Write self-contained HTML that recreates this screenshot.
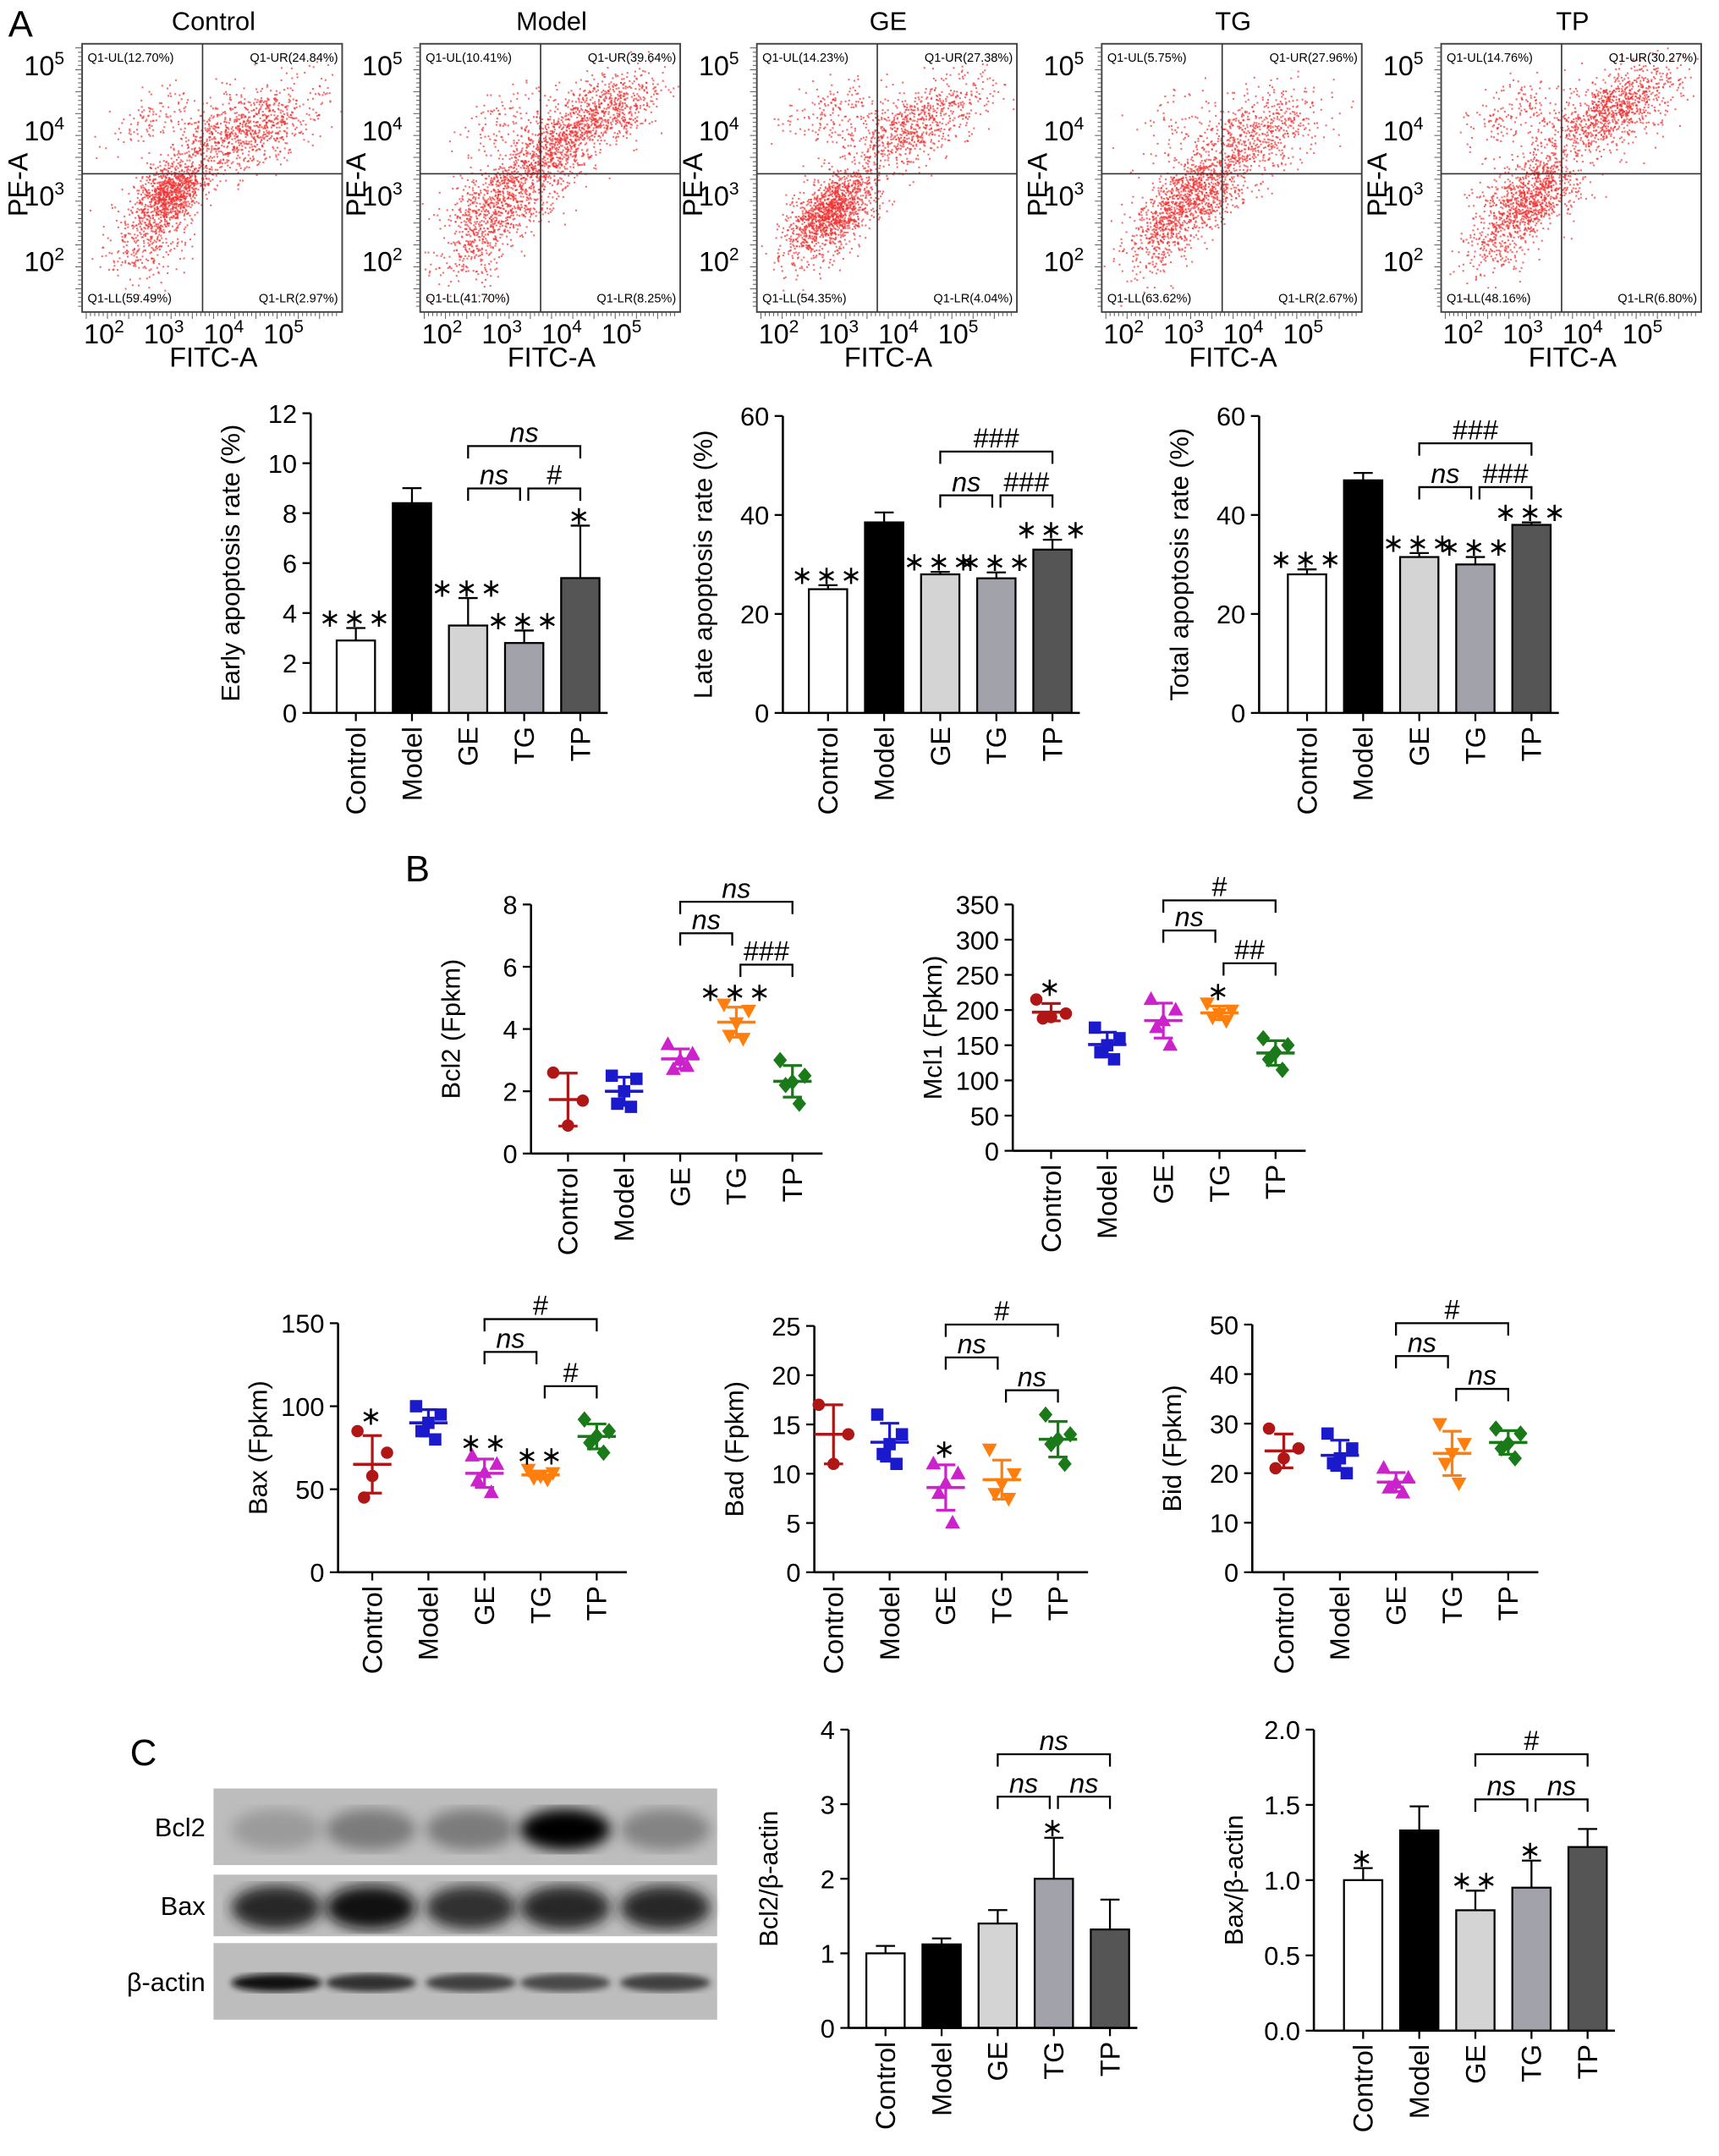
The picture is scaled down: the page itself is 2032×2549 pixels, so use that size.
<!DOCTYPE html>
<html><head><meta charset="utf-8"><style>
html,body{margin:0;padding:0;background:#fff}
svg{display:block;font-family:"Liberation Sans",Arial,sans-serif}
</style></head><body>
<svg id="fig" xmlns="http://www.w3.org/2000/svg" width="2032" height="2549" viewBox="0 0 1256 1575.6">
<defs><filter id="blur4"><feGaussianBlur stdDeviation="5"/></filter><filter id="blur2"><feGaussianBlur stdDeviation="2.5"/></filter></defs>
</svg>
<script>
const groups=["Control","Model","GE","TG","TP"];
// Flow cytometry
const flowTitles=["Control","Model","GE","TG","TP"];
const flowLeft=[60,307,553,805,1053];
const quadLabels=[["Q1-UL(12.70%)","Q1-UR(24.84%)","Q1-LL(59.49%)","Q1-LR(2.97%)"],["Q1-UL(10.41%)","Q1-UR(39.64%)","Q1-LL(41.70%)","Q1-LR(8.25%)"],["Q1-UL(14.23%)","Q1-UR(27.38%)","Q1-LL(54.35%)","Q1-LR(4.04%)"],["Q1-UL(5.75%)","Q1-UR(27.96%)","Q1-LL(63.62%)","Q1-LR(2.67%)"],["Q1-UL(14.76%)","Q1-UR(30.27%)","Q1-LL(48.16%)","Q1-LR(6.80%)"]];
// clusters: [cx, cy, sx, sy, n] in log10 units
const flowClusters=[
 [[2.95,3.05,0.28,0.3,900],[2.6,2.4,0.35,0.4,350],[3.8,3.9,0.45,0.35,500],[4.6,4.1,0.5,0.35,450],[2.7,4.2,0.4,0.3,120]],
 [[2.9,3.0,0.45,0.4,700],[3.6,3.6,0.35,0.35,450],[4.4,4.2,0.55,0.35,900],[2.4,2.3,0.35,0.4,300],[2.8,4.2,0.4,0.3,100]],
 [[2.8,2.85,0.35,0.3,1100],[2.5,2.4,0.35,0.35,300],[4.1,4.1,0.6,0.35,800],[2.7,4.3,0.4,0.3,150]],
 [[3.0,3.0,0.4,0.35,900],[2.5,2.4,0.35,0.35,350],[4.0,3.9,0.55,0.4,700],[2.7,4.2,0.35,0.3,60]],
 [[3.0,3.0,0.4,0.35,900],[2.5,2.4,0.35,0.35,250],[4.2,4.2,0.6,0.35,800],[4.6,4.6,0.4,0.25,250],[2.7,4.3,0.4,0.3,150]]
];
// Bar charts A
const earlyMean=[2.9,8.4,3.5,2.8,5.4], earlySD=[0.5,0.6,1.1,0.5,2.1];
const lateMean=[25,38.5,28,27.2,33], lateSD=[0.8,2,0.5,1.2,2];
const totalMean=[28,47,31.5,30,38], totalSD=[1,1.5,0.8,1.5,0.5];
const earlyTicks=[0,2,4,6,8,10,12], lateTicks=[0,20,40,60], totalTicks=[0,20,40,60];
// Scatter B
const bcl2Pts=[[2.6,1.7,0.9],[2.5,2.4,2.0,1.6,1.5],[3.5,3.2,3.0,2.7,2.8],[4.8,4.6,4.2,3.8,3.7],[3.0,2.5,2.3,2.2,1.6]];
const mcl1Pts=[[215,195,190,188],[175,160,150,140,130],[215,200,185,175,150],[210,200,195,190,185],[160,150,140,130,115]];
const baxPts=[[85,72,58,45],[100,95,90,85,80],[70,65,60,55,48],[62,60,58,57,56],[92,85,82,78,72]];
const badPts=[[17,14,11],[16,14,13,12,11],[11,10,9,8,5],[12.5,10,9,8,7.5],[16,14,13.5,13,11]];
const bidPts=[[29,25,23,21],[28,25,23,22,20],[21,19,18,17,16],[30,26,24,22,18],[29,28,26,25,23]];
const bcl2Ticks=[0,2,4,6,8], mcl1Ticks=[0,50,100,150,200,250,300,350], baxTicks=[0,50,100,150], badTicks=[0,5,10,15,20,25], bidTicks=[0,10,20,30,40,50];
// Bars C
const wbBcl2Mean=[1.0,1.12,1.4,2.0,1.32], wbBcl2SD=[0.1,0.08,0.18,0.55,0.4];
const wbBaxMean=[1.0,1.33,0.8,0.95,1.22], wbBaxSD=[0.08,0.16,0.13,0.18,0.12];
const wbBcl2Ticks=[0,1,2,3,4], wbBaxTicks=[0,0.5,1.0,1.5,2.0], wbBaxTickLbl=["0.0","0.5","1.0","1.5","2.0"];
// Blot intensities
const blotBcl2=[0.25,0.45,0.45,1.0,0.4], blotBax=[0.85,0.95,0.8,0.85,0.85], blotActin=[0.95,0.8,0.75,0.7,0.75];

const svg=document.getElementById('fig');
const NS="http://www.w3.org/2000/svg";
function el(tag,attrs,parent,text){const e=document.createElementNS(NS,tag);for(const k in attrs)e.setAttribute(k,attrs[k]);if(text!==undefined)e.textContent=text;(parent||svg).appendChild(e);return e;}
const barFill=["#fff","#000","#d4d4d4","#a2a2aa","#555"];
const dotCol=["#b01616","#1a1acc","#cc22cc","#ff7f0e","#1a7a1a"];

let t;
t=el('text',{x:6,y:27,'font-size':27},svg,'A');
t=el('text',{x:296,y:644,'font-size':27},svg,'B');
t=el('text',{x:95,y:1290,'font-size':27},svg,'C');

let seed=12345;function rnd(){seed=(seed*16807)%2147483647;return seed/2147483647;}
function gauss(){let u=rnd()||1e-6,v=rnd();return Math.sqrt(-2*Math.log(u))*Math.cos(2*Math.PI*v);}

flowLeft.forEach((x0,pi)=>{
  const g=el('g',{});
  
  
  const W=190,H=196,top=32;
  const xs=v=>x0+22+(v-2)*43.7, ys=v=>top+159-(v-2)*47.7;
  const tt=el('text',{x:x0+96,y:22,'font-size':19,'text-anchor':'middle'},g,flowTitles[pi]);
  
  const dots=el('g',{fill:'#f03030'},g);
  flowClusters[pi].forEach(c=>{for(let i=0;i<c[4];i++){const a=c[0]+gauss()*c[2],b=c[1]+gauss()*c[3]*0.8+(a-c[0])*0.35;const px=xs(a),py=ys(b);if(px<x0+1||px>x0+W-1||py<top+1||py>top+H-1)continue;el('rect',{x:px.toFixed(1),y:py.toFixed(1),width:1.3,height:1.3,opacity:0.7},dots);}});
  el('rect',{x:x0,y:top,width:W,height:H,fill:'none',stroke:'#444','stroke-width':1.2},g);
  el('line',{x1:x0+88,y1:top,x2:x0+88,y2:top+H,stroke:'#333','stroke-width':1},g);
  el('line',{x1:x0,y1:top+95,x2:x0+W,y2:top+95,stroke:'#333','stroke-width':1},g);
  for(let i=0;i<60;i++){el('line',{x1:x0+3+i*3.1,y1:top+H,x2:x0+3+i*3.1,y2:top+H+(i%5==0?5:3),stroke:'#555','stroke-width':0.6},g);el('line',{x1:x0,y1:top+3+i*3.2,x2:x0-(i%5==0?5:3),y2:top+3+i*3.2,stroke:'#555','stroke-width':0.6},g);}
  const q=quadLabels[pi];
  el('text',{x:x0+4,y:top+13,'font-size':9},g,q[0]);
  el('text',{x:x0+W-3,y:top+13,'font-size':9,'text-anchor':'end'},g,q[1]);
  el('text',{x:x0+4,y:top+H-7,'font-size':9},g,q[2]);
  el('text',{x:x0+W-3,y:top+H-7,'font-size':9,'text-anchor':'end'},g,q[3]);
  [2,3,4,5].forEach(d=>{
    const a=el('text',{x:xs(d)-6,y:top+219,'font-size':20,'text-anchor':'middle'},g,'10');el('tspan',{dy:-8,'font-size':13},a,String(d));
    const b=el('text',{x:x0-13,y:ys(d)+7,'font-size':20,'text-anchor':'end'},g,'10');el('tspan',{dy:-8,'font-size':13},b,String(d));
  });
  el('text',{x:x0+96,y:268,'font-size':20,'text-anchor':'middle'},g,'FITC-A');
  el('text',{x:0,y:0,'font-size':20,'text-anchor':'middle',transform:`translate(${x0-40},${top+103}) rotate(-90)`},g,'PE-A');
});

function yAxis(g,x0,yTop,yBot,max,ticks,lbls,title){
  const ys=v=>yBot-(v/max)*(yBot-yTop);
  el('line',{x1:x0,y1:yTop,x2:x0,y2:yBot,stroke:'#000','stroke-width':1.6},g);
  ticks.forEach((v,i)=>{el('line',{x1:x0-6,y1:ys(v),x2:x0,y2:ys(v),stroke:'#000','stroke-width':1.4},g);el('text',{x:x0-10,y:ys(v)+7,'font-size':19,'text-anchor':'end'},g,lbls?lbls[i]:String(v));});
  const tw=el('text',{x:0,y:0,'font-size':19,'text-anchor':'middle',transform:`translate(${x0-52},${(yTop+yBot)/2}) rotate(-90)`},g,title);
  
  return ys;
}
function xCats(g,x0,yBot,cx,xEnd){
  el('line',{x1:x0,y1:yBot,x2:xEnd,y2:yBot,stroke:'#000','stroke-width':1.6},g);
  cx.forEach((c,i)=>{el('line',{x1:c,y1:yBot,x2:c,y2:yBot+6,stroke:'#000','stroke-width':1.4},g);el('text',{x:0,y:0,'font-size':20,'text-anchor':'end',transform:`translate(${c+7},${yBot+10}) rotate(-90)`},g,groups[i]);});
}
function barChart(name,x0,yTop,yBot,max,ticks,lbls,title,mean,sd,firstOff){
  const g=el('g',{});
  const ys=yAxis(g,x0,yTop,yBot,max,ticks,lbls,title);
  const cx=groups.map((_,i)=>x0+firstOff+i*41);
  mean.forEach((m,i)=>{
    const top=ys(m+sd[i]);
    el('line',{x1:cx[i],y1:ys(m),x2:cx[i],y2:top,stroke:'#000','stroke-width':1.4},g);
    el('line',{x1:cx[i]-7,y1:top,x2:cx[i]+7,y2:top,stroke:'#000','stroke-width':1.4},g);
    const b=el('rect',{x:cx[i]-14,y:ys(m),width:28,height:yBot-ys(m),fill:barFill[i],stroke:'#000','stroke-width':1.4},g);
    
  });
  xCats(g,x0,yBot,cx,cx[4]+20);
  return {g,ys,cx};
}
function scatterChart(name,x0,yTop,yBot,max,ticks,title,pts,firstOff){
  const g=el('g',{});
  const ys=yAxis(g,x0,yTop,yBot,max,ticks,null,title);
  const cx=groups.map((_,i)=>x0+firstOff+i*41);
  const jit=[-9,9,0,-5,5];
  pts.forEach((arr,i)=>{
    const m=arr.reduce((a,b)=>a+b,0)/arr.length;
    const s=Math.sqrt(arr.reduce((a,b)=>a+(b-m)*(b-m),0)/(arr.length-1));
    const c=dotCol[i];
    arr.forEach((v,j)=>{
      const px=cx[i]+jit[j%5]*(arr.length<5?1.2:1),py=ys(v);let p;
      if(i==0)p=el('circle',{cx:px,cy:py,r:4.5,fill:c},g);
      else if(i==1)p=el('rect',{x:px-4.5,y:py-4.5,width:9,height:9,fill:c},g);
      else if(i==2)p=el('polygon',{points:`${px},${py-6} ${px-5.5},${py+4} ${px+5.5},${py+4}`,fill:c},g);
      else if(i==3)p=el('polygon',{points:`${px},${py+6} ${px-5.5},${py-4} ${px+5.5},${py-4}`,fill:c},g);
      else p=el('polygon',{points:`${px},${py-6} ${px+5},${py} ${px},${py+6} ${px-5},${py}`,fill:c},g);
      
    });
    el('line',{x1:cx[i]-14,y1:ys(m),x2:cx[i]+14,y2:ys(m),stroke:c,'stroke-width':2.2},g);
    el('line',{x1:cx[i],y1:ys(m-s),x2:cx[i],y2:ys(m+s),stroke:c,'stroke-width':2},g);
    [m-s,m+s].forEach(v=>el('line',{x1:cx[i]-7,y1:ys(v),x2:cx[i]+7,y2:ys(v),stroke:c,'stroke-width':2},g));
  });
  xCats(g,x0,yBot,cx,cx[4]+22);
  return {g,ys,cx};
}
function star(g,x,y,s){const n=s.length;el('text',{x:x,y:y+1,'font-size':19,'text-anchor':'middle','font-family':'"DejaVu Sans",sans-serif','letter-spacing':2},g,'∗'.repeat(n));}
function bracket(g,x1,x2,y,label,ital){
  el('path',{d:`M${x1},${y+9}V${y}H${x2}V${y+9}`,fill:'none',stroke:'#000','stroke-width':1.4},g);
  el('text',{x:(x1+x2)/2,y:y-3,'font-size':20,'text-anchor':'middle','font-style':ital?'italic':'normal'},g,label);
}

let c=barChart('early-apoptosis-chart',227,302,521,12,earlyTicks,null,'Early apoptosis rate (%)',earlyMean,earlySD,33);
star(c.g,c.cx[0],c.ys(3.4)-2,'***');star(c.g,c.cx[2],c.ys(4.6)-2,'***');star(c.g,c.cx[3],c.ys(3.3)-2,'***');star(c.g,c.cx[4],c.ys(7.5)-2,'*');
bracket(c.g,c.cx[2],c.cx[4],326,'ns',true);bracket(c.g,c.cx[2],c.cx[3]-3,357,'ns',true);bracket(c.g,c.cx[3]+3,c.cx[4],357,'#');
c=barChart('late-apoptosis-chart',572,304,521,60,lateTicks,null,'Late apoptosis rate (%)',lateMean,lateSD,33);
star(c.g,c.cx[0],c.ys(25.8)-2,'***');star(c.g,c.cx[2],c.ys(28.5)-2,'***');star(c.g,c.cx[3],c.ys(28.4)-2,'***');star(c.g,c.cx[4],c.ys(35)-2,'***');
bracket(c.g,c.cx[2],c.cx[4],330,'###');bracket(c.g,c.cx[2],c.cx[3]-3,362,'ns',true);bracket(c.g,c.cx[3]+3,c.cx[4],362,'###');
c=barChart('total-apoptosis-chart',920,304,521,60,totalTicks,null,'Total apoptosis rate (%)',totalMean,totalSD,35);
star(c.g,c.cx[0],c.ys(29)-2,'***');star(c.g,c.cx[2],c.ys(32.3)-2,'***');star(c.g,c.cx[3],c.ys(31.5)-2,'***');star(c.g,c.cx[4],c.ys(38.5)-2,'***');
bracket(c.g,c.cx[2],c.cx[4],324,'###');bracket(c.g,c.cx[2],c.cx[3]-3,356,'ns',true);bracket(c.g,c.cx[3]+3,c.cx[4],356,'###');

c=scatterChart('bcl2-scatter',388,661,843,8,bcl2Ticks,'Bcl2 (Fpkm)',bcl2Pts,27);
star(c.g,c.cx[3],c.ys(4.85)-2,'***');
bracket(c.g,c.cx[2],c.cx[4],659,'ns',true);bracket(c.g,c.cx[2],c.cx[3]-3,682,'ns',true);bracket(c.g,c.cx[3]+3,c.cx[4],705,'###');
c=scatterChart('mcl1-scatter',740,661,841,350,mcl1Ticks,'Mcl1 (Fpkm)',mcl1Pts,28);
star(c.g,c.cx[0],c.ys(218)-2,'*');star(c.g,c.cx[3],c.ys(212)-2,'*');
bracket(c.g,c.cx[2],c.cx[4],658,'#');bracket(c.g,c.cx[2],c.cx[3]-3,680,'ns',true);bracket(c.g,c.cx[3]+3,c.cx[4],704,'##');
c=scatterChart('bax-scatter',247,967,1149,150,baxTicks,'Bax (Fpkm)',baxPts,25);
star(c.g,c.cx[0],c.ys(88)-2,'*');star(c.g,c.cx[2],c.ys(72)-2,'**');star(c.g,c.cx[3],c.ys(64)-2,'**');
bracket(c.g,c.cx[2],c.cx[4],964,'#');bracket(c.g,c.cx[2],c.cx[3]-3,988,'ns',true);bracket(c.g,c.cx[3]+3,c.cx[4],1013,'#');
c=scatterChart('bad-scatter',595,969,1149,25,badTicks,'Bad (Fpkm)',badPts,14);
star(c.g,c.cx[2],c.ys(11.5)-2,'*');
bracket(c.g,c.cx[2],c.cx[4],968,'#');bracket(c.g,c.cx[2],c.cx[3]-3,992,'ns',true);bracket(c.g,c.cx[3]+3,c.cx[4],1016,'ns',true);
c=scatterChart('bid-scatter',915,968,1149,50,bidTicks,'Bid (Fpkm)',bidPts,23);
bracket(c.g,c.cx[2],c.cx[4],967,'#');bracket(c.g,c.cx[2],c.cx[3]-3,991,'ns',true);bracket(c.g,c.cx[3]+3,c.cx[4],1015,'ns',true);

const wb=el('g',{});
const laneX=[202,271,344,413,486];
const rows=[["Bcl2",1307,1363,blotBcl2,20],["Bax",1370,1415,blotBax,22],["β-actin",1420,1476,blotActin,9]];
rows.forEach(r=>{
  const rg=el('g',{},wb);
  el('rect',{x:156,y:r[1],width:368,height:r[2]-r[1],fill:'#bdbdbd'},rg);
  const cy=r[0]=="β-actin"?r[1]+29:(r[0]=="Bax"?r[1]+24:r[1]+30);
  r[3].forEach((v,i)=>{const k=Math.round(180*(1-v));el('ellipse',{cx:laneX[i],cy:cy,rx:33,ry:r[4]/2+(r[0]=="β-actin"?2:5),fill:`rgb(${k},${k},${k})`,opacity:0.5+0.5*v,filter:r[0]=="β-actin"?'url(#blur2)':'url(#blur4)'},rg);});
  el('text',{x:150,y:(r[1]+r[2])/2+7,'font-size':19,'text-anchor':'end'},rg,r[0]);
});

c=barChart('bcl2-actin-chart',620,1264,1482,4,wbBcl2Ticks,null,'Bcl2/β-actin',wbBcl2Mean,wbBcl2SD,27);
star(c.g,c.cx[3],c.ys(2.55)-2,'*');
bracket(c.g,c.cx[2],c.cx[4],1282,'ns',true);bracket(c.g,c.cx[2],c.cx[3]-3,1313,'ns',true);bracket(c.g,c.cx[3]+3,c.cx[4],1313,'ns',true);
c=barChart('bax-actin-chart',960,1264,1484,2,wbBaxTicks,wbBaxTickLbl,'Bax/β-actin',wbBaxMean,wbBaxSD,36);
star(c.g,c.cx[0],c.ys(1.08)-2,'*');star(c.g,c.cx[2],c.ys(0.93)-2,'**');star(c.g,c.cx[3],c.ys(1.13)-2,'*');
bracket(c.g,c.cx[2],c.cx[4],1282,'#');bracket(c.g,c.cx[2],c.cx[3]-3,1315,'ns',true);bracket(c.g,c.cx[3]+3,c.cx[4],1315,'ns',true);
</script>
</body></html>
